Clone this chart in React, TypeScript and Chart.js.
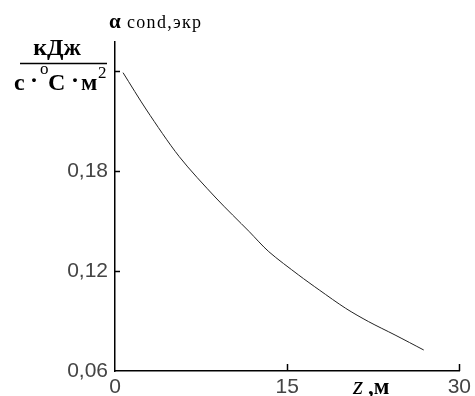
import React, { useEffect, useRef } from "react";
import { Chart, registerables } from "chart.js";

Chart.register(...registerables);

const zValues = [0.7, 2.75, 5.6, 8.8, 11.7, 13.4, 16.0, 17.8, 20.1, 22.1, 24.4, 26.9];
const alphaValues = [0.239, 0.2166, 0.1886, 0.1638, 0.1436, 0.1316, 0.1176, 0.1086, 0.0976, 0.0896, 0.0816, 0.0726];
const xTicks = [0, 15, 30];
const yTicks = [0.06, 0.12, 0.18, 0.24];
const yTickLabels = ["0,06", "0,12", "0,18", ""];
const xTickLabels = ["0", "15", "30"];

const SERIF = "'Liberation Serif', 'Times New Roman', serif";

const decorPlugin = {
  id: "decor",
  afterDraw(chart: any) {
    const ctx = chart.ctx as CanvasRenderingContext2D;
    const xs = chart.scales.x;
    const ys = chart.scales.y;
    const left = chart.chartArea.left;
    const bottom = chart.chartArea.bottom;
    ctx.save();
    ctx.strokeStyle = "#000";
    ctx.lineWidth = 1.5;
    yTicks.slice(1).forEach((v) => {
      const y = Math.round(ys.getPixelForValue(v)) + 0.5;
      ctx.beginPath();
      ctx.moveTo(left, y);
      ctx.lineTo(left + 5, y);
      ctx.stroke();
    });
    xTicks.slice(1).forEach((v) => {
      const x = Math.round(xs.getPixelForValue(v)) + 0.5;
      ctx.beginPath();
      ctx.moveTo(x, bottom);
      ctx.lineTo(x, bottom - 7);
      ctx.stroke();
    });
    ctx.fillStyle = "#000";
    ctx.textBaseline = "alphabetic";
    ctx.textAlign = "left";
    // top title
    ctx.font = `bold 21px ${SERIF}`;
    ctx.fillText("α", 109, 28);
    ctx.font = `18px ${SERIF}`;
    (ctx as any).letterSpacing = "1.3px";
    ctx.fillText("cond,экр", 127, 28);
    (ctx as any).letterSpacing = "0px";
    // units fraction
    ctx.textAlign = "center";
    ctx.font = `bold 24px ${SERIF}`;
    ctx.fillText("кДж", 57, 55);
    ctx.lineWidth = 1.3;
    ctx.beginPath();
    ctx.moveTo(20, 63.5);
    ctx.lineTo(107, 63.5);
    ctx.stroke();
    ctx.textAlign = "left";
    ctx.font = `bold 24px ${SERIF}`;
    ctx.fillText("с", 14, 90);
    ctx.fillText("·", 30, 88);
    ctx.fillText("С", 48, 90);
    ctx.fillText("·", 71, 88);
    ctx.fillText("м", 81, 90);
    ctx.font = `17px ${SERIF}`;
    ctx.fillText("o", 40, 74);
    ctx.fillText("2", 98, 78);
    // x title
    ctx.font = `italic 26px ${SERIF}`;
    ctx.fillText("z", 353, 394);
    ctx.font = `bold 23px ${SERIF}`;
    ctx.fillText(",м", 368, 394);
    ctx.restore();
  },
};

export default function App() {
  const ref = useRef<HTMLCanvasElement | null>(null);
  useEffect(() => {
    if (!ref.current) return;
    const chart = new Chart(ref.current, {
      type: "line",
      data: {
        datasets: [
          {
            data: zValues.map((z, i) => ({ x: z, y: alphaValues[i] })),
            borderColor: "#222",
            borderWidth: 1,
            pointRadius: 0,
            tension: 0.3,
            fill: false,
          },
        ],
      },
      options: {
        animation: false,
        responsive: false,
        devicePixelRatio: 1,
        layout: { padding: { top: 42, right: 14, left: 0, bottom: 0 } },
        plugins: { legend: { display: false }, tooltip: { enabled: false } },
        scales: {
          x: {
            type: "linear",
            min: 0,
            max: 30,
            afterBuildTicks: (s: any) => {
              s.ticks = xTicks.map((v) => ({ value: v }));
            },
            afterFit: (s: any) => {
              s.height = 25;
            },
            grid: { display: false, drawTicks: false },
            border: { display: true, color: "#000", width: 1.5 },
            ticks: {
              padding: 4,
              color: "#444",
              font: { family: "'Liberation Sans', Arial, sans-serif", size: 21 },
              maxRotation: 0,
              autoSkip: false,
              callback: (v: any) => {
                const i = xTicks.indexOf(Number(v));
                return i >= 0 ? xTickLabels[i] : "";
              },
            },
          },
          y: {
            type: "linear",
            min: 0.06,
            max: 0.2574,
            afterBuildTicks: (s: any) => {
              s.ticks = yTicks.map((v) => ({ value: v }));
            },
            afterFit: (s: any) => {
              s.width = 115;
            },
            grid: { display: false, drawTicks: false },
            border: { display: true, color: "#000", width: 1.5 },
            ticks: {
              padding: 7,
              color: "#444",
              font: { family: "'Liberation Sans', Arial, sans-serif", size: 21 },
              autoSkip: false,
              callback: (v: any) => {
                const i = yTicks.findIndex((t) => Math.abs(t - Number(v)) < 1e-6);
                return i >= 0 ? yTickLabels[i] : "";
              },
            },
          },
        },
      },
      plugins: [decorPlugin],
    });
    return () => chart.destroy();
  }, []);
  return (
    <div style={{ position: "fixed", left: 0, top: 0, width: 475, height: 396, background: "#fff" }}>
      <canvas ref={ref} width={475} height={396} style={{ width: 475, height: 396 }} />
    </div>
  );
}
